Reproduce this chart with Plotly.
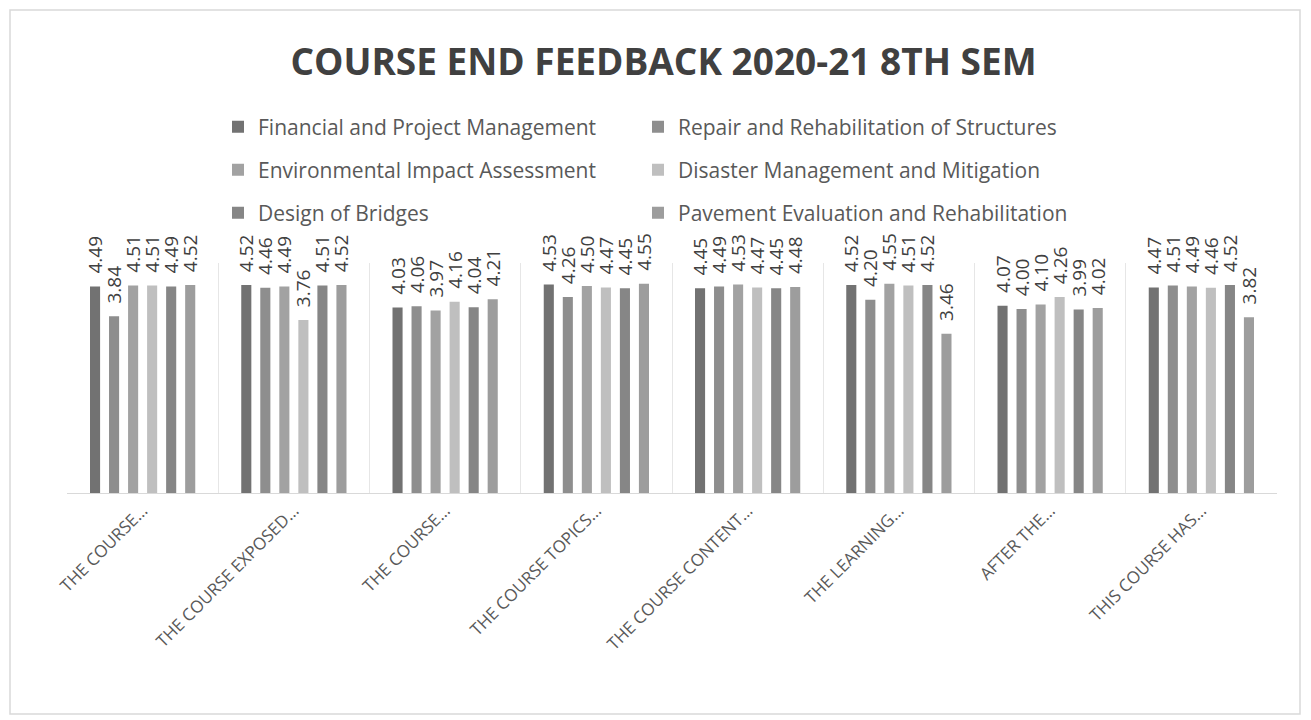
import plotly.graph_objects as go

# Course end feedback, 8th semester 2020-21
questions = ['THE COURSE…', 'THE COURSE EXPOSED…', 'THE COURSE…', 'THE COURSE TOPICS…',
             'THE COURSE CONTENT…', 'THE LEARNING…', 'AFTER THE…', 'THIS COURSE HAS…']

financial = [4.49, 4.52, 4.03, 4.53, 4.45, 4.52, 4.07, 4.47]
repair = [3.84, 4.46, 4.06, 4.26, 4.49, 4.20, 4.00, 4.51]
environmental = [4.51, 4.49, 3.97, 4.50, 4.53, 4.55, 4.10, 4.49]
disaster = [4.51, 3.76, 4.16, 4.47, 4.47, 4.51, 4.26, 4.46]
bridges = [4.49, 4.51, 4.04, 4.45, 4.45, 4.52, 3.99, 4.52]
pavement = [4.52, 4.52, 4.21, 4.55, 4.48, 3.46, 4.02, 3.82]

subjects = [
    ('Financial and Project Management', financial, '#727272'),
    ('Repair and Rehabilitation of Structures', repair, '#8e8e8e'),
    ('Environmental Impact Assessment', environmental, '#a2a2a2'),
    ('Disaster Management and Mitigation', disaster, '#bfbfbf'),
    ('Design of Bridges', bridges, '#868686'),
    ('Pavement Evaluation and Rehabilitation', pavement, '#9d9d9d'),
]

W, H = 1311, 720
OFF = 8  # the page body margin moves the figure by 8px
L, R, T, B = 67 - OFF, 1277 - OFF, 263 - OFF, 493 - OFF  # plot area in figure pixels


def px_x(x):
    return (x - OFF - L) / (R - L)


def px_y(y):
    return (B - (y - OFF)) / (B - T)


x_idx = list(range(len(questions)))
# zero-width space keeps the padding from being trimmed; lifts labels off the bars
pad = '\u200b' + '\u00a0' * 2
label_font = dict(family='Open Sans', size=19, color='#404040')

fig = go.Figure()
legend_names = ['legend', 'legend2', 'legend3', 'legend4', 'legend5', 'legend6']
for (name, vals, color), leg in zip(subjects, legend_names):
    fig.add_trace(go.Bar(
        x=x_idx, y=vals, name=name, legend=leg,
        marker=dict(color=color, line=dict(width=0)),
        text=[pad + f'{v:.2f}' for v in vals], textposition='outside', textangle=-90,
        constraintext='none', cliponaxis=False,
        textfont=label_font, outsidetextfont=label_font,
    ))

legend_style = dict(orientation='h', xanchor='left', yanchor='middle',
                    font=dict(family='Open Sans', size=21, color='#595959'),
                    bgcolor='rgba(0,0,0,0)', itemclick=False)

# two columns, three rows
legend_pos = [(218, 127), (638, 127), (218, 170), (638, 170), (218, 213), (638, 213)]
legend_layout = {}
for leg, (lx, ly) in zip(legend_names, legend_pos):
    legend_layout[leg] = dict(x=px_x(lx), y=px_y(ly), **legend_style)

fig.update_layout(
    width=W, height=H,
    margin=dict(l=L, r=W - R, t=T, b=H - B),
    paper_bgcolor='white', plot_bgcolor='white',
    barmode='group', bargap=0.245, bargroupgap=0.47,
    uniformtext=dict(mode='show', minsize=19),
    title=dict(text='<b>COURSE END FEEDBACK 2020-21 8TH SEM</b>', x=0.5, xanchor='center',
               y=1 - (62 - OFF) / H, yanchor='middle',
               font=dict(family='Open Sans', size=37, color='#404040')),
    showlegend=True,
    **legend_layout,
)

fig.update_xaxes(
    type='category', tickmode='array', tickvals=x_idx, ticktext=questions,
    tickangle=-45, tickson='boundaries', ticks='',
    showgrid=True, gridcolor='#e6e6e6', gridwidth=1,
    showline=True, linecolor='#d9d9d9', linewidth=1,
    tickfont=dict(family='Open Sans', size=17, color='#595959'),
)
fig.update_yaxes(range=[0, 5], visible=False, showgrid=False)

# outer chart frame
fig.add_shape(type='rect', xref='paper', yref='paper',
              x0=px_x(10), x1=px_x(1300), y0=px_y(714), y1=px_y(10),
              line=dict(color='#d9d9d9', width=1.5), layer='below')

fig.write_html('out.html')
